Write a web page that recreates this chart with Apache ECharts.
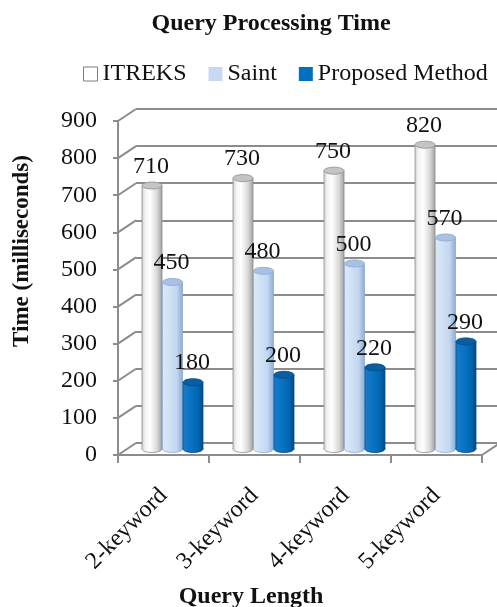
<!DOCTYPE html>
<html>
<head>
<meta charset="utf-8">
<script src="https://cdn.jsdelivr.net/npm/echarts@6/dist/echarts.min.js"></script>
<style>
  html, body { margin: 0; padding: 0; background: #fff; }
  #chart { width: 497px; height: 607px; }
</style>
</head>
<body>
<div id="chart"></div>
<script>
// Query processing time (ms) by query length
const categories = ['2-keyword', '3-keyword', '4-keyword', '5-keyword'];
const seriesNames = ['ITREKS', 'Saint', 'Proposed Method'];
const itreks = [710, 730, 750, 820];
const saint = [450, 480, 500, 570];
const proposed = [180, 200, 220, 290];
const yTicks = [0, 100, 200, 300, 400, 500, 600, 700, 800, 900];

const SERIF = '"Liberation Serif", "Times New Roman", serif';
const GRID_GRAY = '#8c8c8c';
// 3D depth shift: front plane -> back wall
const DEPTH_X = 18, DEPTH_Y = -12;

const palettes = {
  'ITREKS': {
    body: [[0, '#d0d0d0'], [0.15, '#f2f2f2'], [0.4, '#ffffff'], [0.75, '#d8d8d8'], [1, '#a0a0a0']],
    top: '#c4c4c4', edge: '#8f8f8f', legend: '#ffffff'
  },
  'Saint': {
    body: [[0, '#dbe7f7'], [0.3, '#d2e2f6'], [0.7, '#c3d7f0'], [1, '#8eadd6']],
    top: '#a8c1e2', edge: '#8eaad0', legend: '#c6d9f1'
  },
  'Proposed Method': {
    body: [[0, '#1a7bc9'], [0.35, '#0a74c4'], [0.75, '#0066b3'], [1, '#004a86']],
    top: '#0b5d9f', edge: '#004d8c', legend: '#0070c0'
  }
};

function cylinder(name, shift) {
  const pal = palettes[name];
  return function (params, api) {
    const idx = api.value(0);
    const v = api.value(1);
    const band = api.size([1, 0])[0];
    const top = api.coord([idx, v]);
    const base = api.coord([idx, 0]);
    const w = band * 0.22;
    const cx = top[0] + band * shift;
    const x0 = cx - w / 2;
    const ry = 3.5;
    const grad = new echarts.graphic.LinearGradient(0, 0, 1, 0,
      pal.body.map(s => ({ offset: s[0], color: s[1] })));
    return {
      type: 'group',
      children: [
        { type: 'ellipse', shape: { cx: cx, cy: base[1], rx: w / 2, ry: ry },
          style: { fill: grad, stroke: pal.edge, lineWidth: 0.8 } },
        { type: 'rect', shape: { x: x0, y: top[1], width: w, height: base[1] - top[1] },
          style: { fill: grad } },
        { type: 'line', shape: { x1: x0, y1: top[1], x2: x0, y2: base[1] },
          style: { stroke: pal.edge, lineWidth: 0.8 } },
        { type: 'line', shape: { x1: x0 + w, y1: top[1], x2: x0 + w, y2: base[1] },
          style: { stroke: pal.edge, lineWidth: 0.8 } },
        { type: 'ellipse', shape: { cx: cx, cy: top[1], rx: w / 2, ry: ry },
          style: { fill: pal.top, stroke: pal.edge, lineWidth: 0.8 } },
        { type: 'text', style: { text: String(v), x: cx - 1, y: top[1] - 19,
            align: 'center', verticalAlign: 'middle',
            font: '24px ' + SERIF, fill: '#111' } }
      ]
    };
  };
}

// Side wall and floor edges joining the front axis to the back wall
function wallEdges(params, api) {
  const cs = params.coordSys;
  const v = api.value(1);
  const y = api.coord([0, v])[1];
  const children = [
    { type: 'line', shape: { x1: cs.x, y1: y, x2: cs.x + DEPTH_X, y2: y + DEPTH_Y },
      style: { stroke: GRID_GRAY, lineWidth: 2 } }
  ];
  if (v === 0) {
    const xr = cs.x + cs.width;
    children.push({ type: 'line', shape: { x1: xr, y1: y, x2: xr + DEPTH_X, y2: y + DEPTH_Y },
      style: { stroke: GRID_GRAY, lineWidth: 2 } });
  }
  return { type: 'group', children: children };
}

const chart = echarts.init(document.getElementById('chart'), null, { renderer: 'canvas' });

const front = { left: 118, right: 15, top: 121, bottom: 152 };
const back = { left: front.left + DEPTH_X, right: front.right - DEPTH_X,
               top: front.top + DEPTH_Y, bottom: front.bottom - DEPTH_Y };
const mid = { left: front.left + DEPTH_X / 2, right: front.right - DEPTH_X / 2,
              top: front.top + DEPTH_Y / 2, bottom: front.bottom - DEPTH_Y / 2 };

const option = {
  backgroundColor: '#ffffff',
  animation: false,
  title: {
    text: 'Query Processing Time',
    left: 266, top: 7, textAlign: 'center',
    textStyle: { fontFamily: SERIF, fontSize: 24, fontWeight: 'bold', color: '#111' }
  },
  legend: {
    left: 78, top: 57, width: 419, padding: 5,
    itemWidth: 14, itemHeight: 14, itemGap: 22,
    icon: 'rect', selectedMode: false,
    textStyle: { fontFamily: SERIF, fontSize: 24, color: '#111' },
    data: seriesNames.map(n => ({
      name: n,
      itemStyle: n === 'ITREKS'
        ? { color: '#ffffff', borderColor: '#7f7f7f', borderWidth: 1 }
        : { color: palettes[n].legend, borderWidth: 0 }
    }))
  },
  grid: [
    Object.assign({ containLabel: false }, front),
    Object.assign({ containLabel: false }, back),
    Object.assign({ containLabel: false }, mid)
  ],
  xAxis: [
    {
      gridIndex: 0, type: 'category', data: categories, boundaryGap: true,
      axisLine: { lineStyle: { color: GRID_GRAY, width: 2 } },
      axisTick: { show: true, length: 8, lineStyle: { color: GRID_GRAY, width: 2 } },
      axisLabel: { rotate: 45, margin: 37, fontFamily: SERIF, fontSize: 24, color: '#111', interval: 0 }
    },
    { gridIndex: 1, type: 'value', show: false, min: 0, max: 1 },
    { gridIndex: 2, type: 'category', data: categories, show: false, boundaryGap: true }
  ],
  yAxis: [
    {
      gridIndex: 0, type: 'value', min: 0, max: 900, interval: 100,
      axisLine: { show: true, lineStyle: { color: GRID_GRAY, width: 2 } },
      axisTick: { show: true, length: 5, lineStyle: { color: GRID_GRAY, width: 2 } },
      axisLabel: { margin: 21, fontFamily: SERIF, fontSize: 24, color: '#111' },
      splitLine: { show: false }
    },
    {
      gridIndex: 1, type: 'value', min: 0, max: 900, interval: 100,
      axisLine: { show: false }, axisTick: { show: false }, axisLabel: { show: false },
      splitLine: { show: true, lineStyle: { color: GRID_GRAY, width: 2 } }
    },
    { gridIndex: 2, type: 'value', min: 0, max: 900, interval: 100, show: false }
  ],
  graphic: [
    { type: 'text', x: 22, y: 251, rotation: Math.PI / 2,
      style: { text: 'Time (milliseconds)', font: 'bold 23px ' + SERIF, fill: '#111',
               align: 'center', verticalAlign: 'middle' } },
    { type: 'text', x: 251, y: 597,
      style: { text: 'Query Length', font: 'bold 24px ' + SERIF, fill: '#111',
               align: 'center', verticalAlign: 'middle' } }
  ],
  series: [
    {
      type: 'custom', name: 'wall', xAxisIndex: 0, yAxisIndex: 0, clip: false, silent: true,
      renderItem: wallEdges, data: yTicks.map(v => [0, v]), z: 1
    },
    {
      type: 'custom', name: 'ITREKS', xAxisIndex: 2, yAxisIndex: 2, clip: false, z: 3,
      itemStyle: { color: '#ffffff', borderColor: '#7f7f7f' },
      renderItem: cylinder('ITREKS', -0.225), data: itreks.map((v, i) => [i, v])
    },
    {
      type: 'custom', name: 'Saint', xAxisIndex: 2, yAxisIndex: 2, clip: false, z: 3,
      itemStyle: { color: '#c6d9f1' },
      renderItem: cylinder('Saint', 0), data: saint.map((v, i) => [i, v])
    },
    {
      type: 'custom', name: 'Proposed Method', xAxisIndex: 2, yAxisIndex: 2, clip: false, z: 3,
      itemStyle: { color: '#0070c0' },
      renderItem: cylinder('Proposed Method', 0.225), data: proposed.map((v, i) => [i, v])
    }
  ]
};

chart.setOption(option);
</script>
</body>
</html>
